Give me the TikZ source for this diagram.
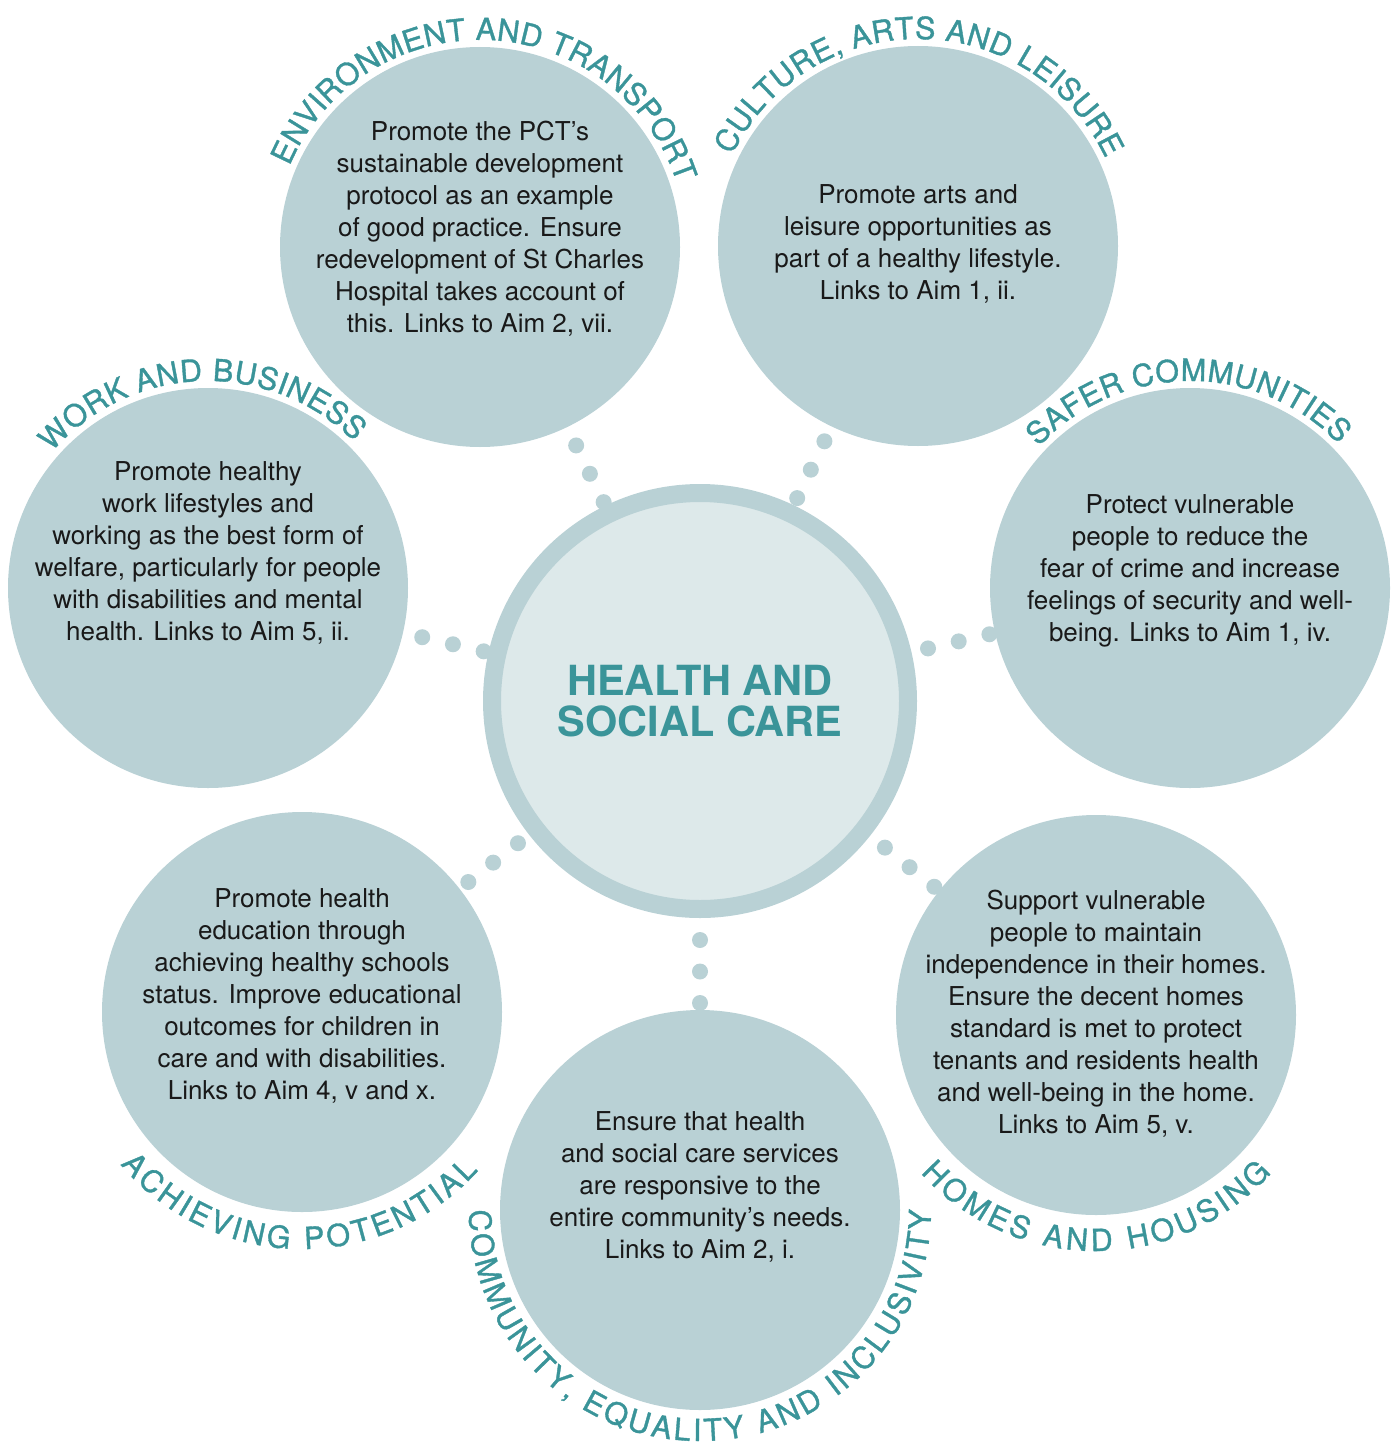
\documentclass[tikz,border=0pt]{standalone}
\usepackage{fontspec}
\setmainfont{TeX Gyre Heros}
\newfontfamily\arcfont[FakeBold=1.2]{TeX Gyre Heros}
\usetikzlibrary{calc, decorations.text}

\definecolor{circfill}{RGB}{185,209,213}
\definecolor{hubfill}{RGB}{221,233,234}
\definecolor{labelteal}{RGB}{58,148,153}
\definecolor{bodyink}{RGB}{25,25,25}

\newcommand\arcsize{\arcfont\fontsize{30.5}{36}\selectfont}

\tikzset{
  topic/.style={circle, fill=circfill, minimum size=400, inner sep=0pt},
  hubcircle/.style={circle, draw=circfill, line width=18, fill=hubfill, minimum size=416, inner sep=0pt},
  blurb/.style={align=center, text=bodyink, font=\fontsize{26}{32}\selectfont, inner sep=0pt},
  linkdot/.style={fill=circfill},
  arclabel/.style={decorate, decoration={text along path, text align=fit to path,
      text color=labelteal, text={|\arcsize|#1}}}
}

\begin{document}
\begin{tikzpicture}[x=1pt, y=1pt]
    \useasboundingbox (0,0) rectangle (1398,-1445);

    % the seven topics
    \node[topic] (env) at (480,-247) {};
    \node[topic] (cult) at (918,-246) {};
    \node[topic] (work) at (208,-588) {};
    \node[topic] (safer) at (1190,-588) {};
    \node[topic] (achieve) at (302,-1012) {};
    \node[topic] (comm) at (700,-1210) {};
    \node[topic] (homes) at (1096,-1015) {};

    % hub in the middle
    \node[hubcircle, text=labelteal, align=center, font=\bfseries\fontsize{41.5}{41}\selectfont] (hub) at (700,-701) {HEALTH AND\\SOCIAL CARE};

    % dotted links
    \foreach \tgt/\st in {env/221, cult/225, work/222, safer/234, achieve/231, comm/239, homes/236}
        \foreach \k in {0,1,2} {
            \pgfmathsetmacro\dd{\st+31.5*\k}
            \fill[linkdot] ($(hub.center)!\dd pt!(\tgt.center)$) circle[radius=8];
        }

    % curved headings
    \path[arclabel={ENVIRONMENT AND TRANSPORT}] ([shift={(157:207)}]env.center) arc[start angle=157, end angle=18, radius=207];
    \path[arclabel={CULTURE, ARTS AND LEISURE}] ([shift={(154:207)}]cult.center) arc[start angle=154, end angle=25, radius=207];
    \path[arclabel={WORK AND BUSINESS}] ([shift={(139:207)}]work.center) arc[start angle=139, end angle=45, radius=207];
    \path[arclabel={SAFER COMMUNITIES}] ([shift={(137:207)}]safer.center) arc[start angle=137, end angle=44, radius=207];
    \path[arclabel={ACHIEVING POTENTIAL}] ([shift={(220:237)}]achieve.center) arc[start angle=220, end angle=318, radius=237];
    \path[arclabel={COMMUNITY, EQUALITY AND INCLUSIVITY}] ([shift={(180:231)}]comm.center) arc[start angle=180, end angle=360, radius=231];
    \path[arclabel={HOMES AND HOUSING}] ([shift={(222:236)}]homes.center) arc[start angle=222, end angle=318, radius=236];

    % texts in the circles
    \node[blurb] (envtxt) at ([yshift=18]env.center) {Promote the PCT’s\\sustainable development\\protocol as an example\\of good practice. Ensure\\redevelopment of St Charles\\Hospital takes account of\\this. Links to Aim 2, vii.};
    \node[blurb] (culttxt) at ([yshift=2]cult.center) {Promote arts and\\leisure opportunities as\\part of a healthy lifestyle.\\Links to Aim 1, ii.};
    \node[blurb] (worktxt) at ([yshift=35]work.center) {Promote healthy\\work lifestyles and\\working as the best form of\\welfare, particularly for people\\with disabilities and mental\\health. Links to Aim 5, ii.};
    \node[blurb] (safertxt) at ([yshift=17]safer.center) {Protect vulnerable\\people to reduce the\\fear of crime and increase\\feelings of security and well-\\being. Links to Aim 1, iv.};
    \node[blurb] (achievetxt) at ([yshift=16]achieve.center) {Promote health\\education through\\achieving healthy schools\\status. Improve educational\\outcomes for children in\\care and with disabilities.\\Links to Aim 4, v and x.};
    \node[blurb] (commtxt) at ([yshift=23]comm.center) {Ensure that health\\and social care services\\are responsive to the\\entire community’s needs.\\Links to Aim 2, i.};
    \node[blurb] (homestxt) at ([yshift=1]homes.center) {Support vulnerable\\people to maintain\\independence in their homes.\\Ensure the decent homes\\standard is met to protect\\tenants and residents health\\and well-being in the home.\\Links to Aim 5, v.};
\end{tikzpicture}
\end{document}
